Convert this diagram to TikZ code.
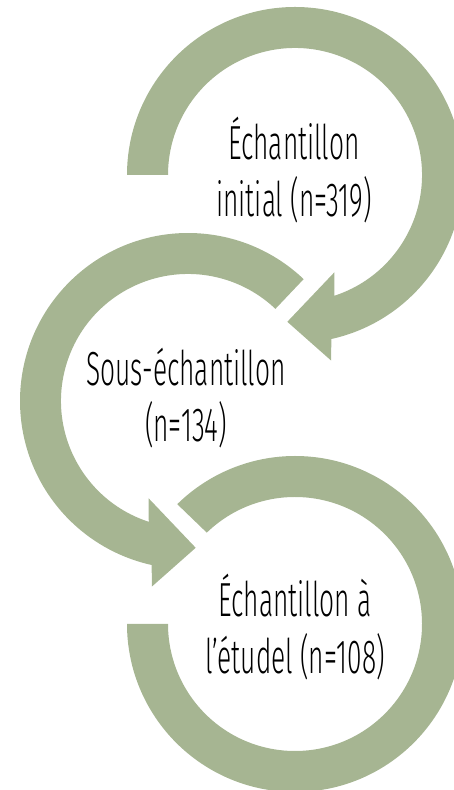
\documentclass[tikz,border=0pt]{standalone}
\usepackage{fontspec}
\setmainfont{Fira Sans}[FakeStretch=0.55, UprightFont=* Light]
\definecolor{sage}{HTML}{A6B592}

\begin{document}
\begin{tikzpicture}[x=1bp, y=1bp, ring/.style={fill=sage, draw=none}, ringtext/.style={align=center, inner sep=0pt, font=\fontsize{48}{57}\selectfont}]

    \clip (0,0) rectangle (454,790);

    % Centres of the rings
    \coordinate (c1) at (295,615);
    \coordinate (c2) at (188,389);
    \coordinate (c3) at (295,166);

    % Top ring, clockwise, head at the bottom
    \fill[ring, shift={(c1)}] (180:168) arc[start angle=180, end angle=-77.5, radius=168]
        -- (-79:189) -- (-93:147) -- (-68:105) -- (-72:127)
        arc[start angle=-72, end angle=180, radius=127] -- cycle;

    % Middle ring, anticlockwise, head at the bottom
    \fill[ring, shift={(c2)}] (46.5:168) arc[start angle=46.5, end angle=257.5, radius=168]
        -- (259:189) -- (273:147) -- (248:105) -- (252:127)
        arc[start angle=252, end angle=46.5, radius=127] -- cycle;

    % Bottom ring, no head
    \fill[ring, shift={(c3)}] (180:168) arc[start angle=180, end angle=494.5, radius=168]
        -- (494:127) arc[start angle=494, end angle=180, radius=127] -- cycle;

    % Texts
    \node[ringtext] (initial) at (294,620) {Échantillon\\initial (n=319)};
    \node[ringtext] (sous) at (186,392) {Sous-échantillon\\(n=134)};
    \node[ringtext] (etude) at (295,163) {Échantillon à\\l'étudel (n=108)};

\end{tikzpicture}
\end{document}
